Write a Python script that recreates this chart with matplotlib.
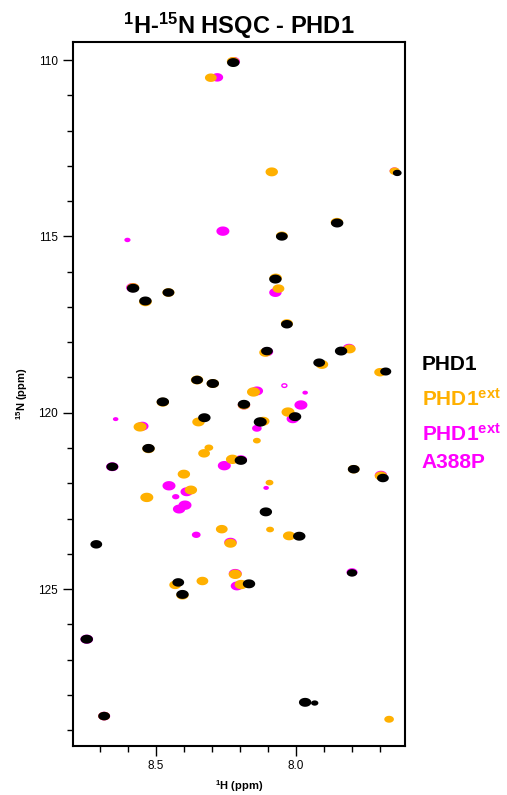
import numpy as np
import matplotlib
matplotlib.use("Agg")
import matplotlib.pyplot as plt
from matplotlib.path import Path
from matplotlib.ticker import MultipleLocator, FormatStrFormatter

plt.rcParams['font.family'] = ['Liberation Sans', 'DejaVu Sans']
plt.rcParams['mathtext.fontset'] = 'custom'
plt.rcParams['mathtext.bf'] = 'Liberation Sans:bold'
plt.rcParams['mathtext.rm'] = 'Liberation Sans'

# peak lists: 1H ppm, 15N ppm, relative intensity
phd1_h = [8.224, 7.640, 7.854, 8.051, 8.074, 8.033, 8.581, 8.537, 8.455, 8.104,
          7.840, 7.918, 7.681, 8.353, 8.297, 8.475, 8.186, 8.004, 8.327, 8.128,
          8.526, 8.655, 8.197, 7.795, 7.691, 8.108, 7.989, 8.712, 7.801, 8.420,
          8.168, 8.405, 8.746, 7.968, 7.934, 8.684]
phd1_n = [110.07, 113.20, 114.62, 115.00, 116.21, 117.49, 116.47, 116.83, 116.59, 118.25,
          118.25, 118.58, 118.83, 119.07, 119.17, 119.69, 119.76, 120.11, 120.14, 120.26,
          121.01, 121.53, 121.35, 121.60, 121.85, 122.81, 123.50, 123.73, 124.54, 124.81,
          124.85, 125.15, 126.42, 128.21, 128.23, 128.60]
phd1_int = [1.0, 0.5, 1.0, 0.9, 1.0, 0.9, 1.0, 1.0, 0.9, 0.9,
            1.0, 0.9, 0.8, 0.9, 1.0, 1.0, 1.0, 1.0, 1.0, 1.1,
            1.0, 0.9, 1.0, 0.9, 0.9, 1.0, 1.0, 0.9, 0.7, 0.9,
            1.0, 1.0, 1.0, 1.0, 0.35, 0.9]

ext_h = [8.225, 8.304, 8.087, 7.649, 7.855, 8.051, 8.073, 8.063, 8.033, 8.581,
         8.537, 8.455, 8.110, 7.810, 7.908, 7.701, 8.353, 8.297, 8.152, 8.475,
         8.186, 8.029, 8.556, 8.348, 8.117, 8.140, 8.311, 8.328, 8.526, 8.227,
         7.795, 7.698, 8.400, 8.095, 8.375, 8.532, 8.265, 8.093, 8.025, 8.234,
         8.217, 8.334, 8.431, 8.196, 8.405, 8.684, 7.669]
ext_n = [110.04, 110.50, 113.17, 113.15, 114.60, 114.98, 116.18, 116.48, 117.47, 116.45,
         116.85, 116.59, 118.29, 118.19, 118.63, 118.85, 119.07, 119.17, 119.41, 119.70,
         119.78, 119.98, 120.40, 120.26, 120.24, 120.79, 120.99, 121.15, 121.02, 121.32,
         121.60, 121.79, 121.74, 121.98, 122.19, 122.40, 123.30, 123.31, 123.49, 123.70,
         124.58, 124.77, 124.88, 124.87, 125.17, 128.60, 128.69]
ext_int = [1.0, 0.9, 1.0, 0.7, 1.0, 0.9, 1.0, 0.9, 0.95, 1.0,
           1.05, 0.95, 0.95, 1.0, 1.0, 0.9, 1.0, 1.0, 1.1, 1.0,
           1.0, 1.1, 1.1, 1.0, 1.0, 0.4, 0.5, 0.9, 1.0, 1.1,
           0.9, 1.0, 1.0, 0.4, 1.0, 1.1, 0.9, 0.4, 1.0, 1.0,
           1.1, 0.9, 0.9, 1.1, 1.0, 0.9, 0.6]

a388p_h = [8.222, 8.281, 8.261, 8.601, 8.583, 8.074, 8.140, 7.968, 7.983, 8.012,
           8.643, 8.548, 8.140, 8.256, 8.197, 7.698, 8.453, 8.107, 8.390, 8.429,
           8.396, 8.417, 8.356, 8.234, 7.801, 8.217, 8.211, 8.746, 8.684, 8.104,
           7.812, 8.186, 8.655, 7.650]
a388p_n = [110.04, 110.49, 114.85, 115.10, 116.45, 116.59, 119.38, 119.43, 119.78, 120.17,
           120.18, 120.38, 120.44, 121.50, 121.33, 121.77, 122.07, 122.13, 122.24, 122.38,
           122.62, 122.73, 123.46, 123.67, 124.52, 124.56, 124.91, 126.42, 128.60, 118.27,
           118.17, 119.78, 121.53, 113.14]
a388p_int = [1.0, 0.9, 1.1, 0.25, 1.05, 1.0, 1.0, 0.2, 1.1, 1.0,
             0.2, 1.0, 0.6, 1.1, 1.0, 1.0, 1.1, 0.2, 1.0, 0.35,
             1.1, 1.0, 0.5, 1.0, 0.8, 1.1, 1.0, 1.05, 0.95, 1.0,
             1.0, 1.0, 1.0, 0.6]
# weak peak that only shows as an open contour ring
a388p_ring_h = [8.042]
a388p_ring_n = [119.23]

# elliptical peak marker (wider in 1H than in 15N)
t = np.linspace(0, 2 * np.pi, 48)
peak_marker = Path(np.column_stack([np.cos(t), 0.72 * np.sin(t)]), closed=True)

fig = plt.figure(figsize=(5.07, 7.95), dpi=100)
ax = fig.add_axes([0.1434, 0.062, 0.6556, 0.8855])

series = [
    (a388p_h, a388p_n, a388p_int, '#ff00ff', 2),
    (ext_h, ext_n, ext_int, '#ffb000', 3),
    (phd1_h, phd1_n, phd1_int, '#000000', 4),
]
for h, n, inten, col, z in series:
    ax.scatter(h, n, s=80 * np.array(inten), marker=peak_marker,
               color=col, edgecolors='none', zorder=z)
ax.scatter(a388p_ring_h, a388p_ring_n, s=13, marker=peak_marker,
           facecolors='none', edgecolors='#ff00ff', linewidths=1.0, zorder=2)

ax.set_xlim(8.796, 7.612)
ax.set_ylim(129.44, 109.48)
ax.xaxis.set_major_locator(MultipleLocator(0.5))
ax.xaxis.set_minor_locator(MultipleLocator(0.1))
ax.xaxis.set_major_formatter(FormatStrFormatter('%.1f'))
ax.yaxis.set_major_locator(MultipleLocator(5))
ax.yaxis.set_minor_locator(MultipleLocator(1))

ax.tick_params(which='major', direction='out', length=7, width=1, labelsize=8.5)
ax.tick_params(which='minor', direction='out', length=4, width=1)
for sp in ax.spines.values():
    sp.set_linewidth(1.5)

ax.set_xlabel(r'$\mathbf{^{1}}$H (ppm)', fontsize=8, fontweight='bold', labelpad=4)
ax.set_ylabel(r'$\mathbf{^{15}}$N (ppm)', fontsize=8, fontweight='bold', labelpad=6)

fig.text(0.471, 0.968, r'$\mathbf{^{1}}$H-$\mathbf{^{15}}$N HSQC - PHD1',
         ha='center', va='center', fontsize=17, fontweight='bold')

fig.text(0.832, 1 - 364 / 795, 'PHD1', color='black', fontsize=15,
         fontweight='bold', va='center', ha='left')
fig.text(0.832, 1 - 399 / 795, r'PHD1$\mathbf{^{ext}}$', color='#ffb000', fontsize=15,
         fontweight='bold', va='center', ha='left')
fig.text(0.832, 1 - 434 / 795, r'PHD1$\mathbf{^{ext}}$', color='#ff00ff', fontsize=15,
         fontweight='bold', va='center', ha='left')
fig.text(0.832, 1 - 462.5 / 795, 'A388P', color='#ff00ff', fontsize=15,
         fontweight='bold', va='center', ha='left')

fig.savefig('out.png', dpi=100)
